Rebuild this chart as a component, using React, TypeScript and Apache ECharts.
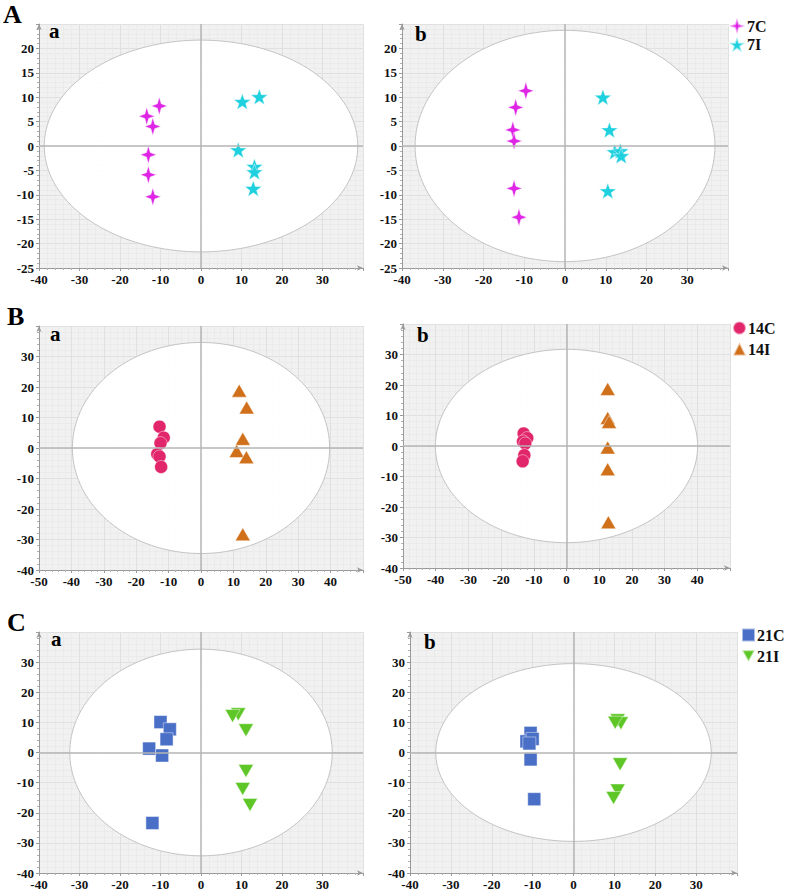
import React, { useEffect, useRef } from "react";
import * as echarts from "echarts";

// ---------- data ----------
// Panel A (day 7)
const A_a_7C = [[-10.3, 8.2], [-13.4, 6.1], [-11.9, 4.0], [-13.0, -1.8], [-13.0, -5.9], [-11.9, -10.4]];
const A_a_7I = [[10.2, 9.1], [14.4, 10.1], [9.2, -0.8], [13.2, -4.2], [13.2, -5.3], [12.9, -8.7]];
const A_b_7C = [[-9.6, 11.3], [-12.1, 7.9], [-12.8, 3.3], [-12.5, 1.0], [-12.5, -8.7], [-11.3, -14.6]];
const A_b_7I = [[9.3, 10.0], [10.9, 3.3], [12.2, -1.2], [13.6, -1.0], [13.8, -2.0], [10.5, -9.2]];
// Panel B (day 14)
const B_a_14C = [[-12.8, 7.0], [-11.5, 3.4], [-12.5, 1.6], [-13.5, -2.0], [-12.8, -2.8], [-12.3, -6.2]];
const B_a_14I = [[11.8, 18.8], [14.1, 13.3], [12.9, 3.0], [11.0, -1.0], [14.0, -3.0], [12.9, -28.3]];
const B_b_14C = [[-13.1, 4.1], [-12.0, 2.6], [-13.3, 1.5], [-12.6, 0.8], [-12.9, -3.0], [-13.4, -5.0]];
const B_b_14I = [[12.6, 18.7], [12.6, 9.2], [13.0, 7.9], [12.6, -0.5], [12.6, -7.6], [12.8, -25.0]];
// Panel C (day 21)
const C_a_21C = [[-10.0, 10.1], [-7.7, 7.7], [-8.5, 4.4], [-12.8, 1.3], [-9.6, -1.0], [-12.0, -23.4]];
const C_a_21I = [[9.2, 12.7], [7.8, 12.1], [11.1, 7.4], [11.1, -6.1], [10.3, -12.1], [12.1, -17.4]];
const C_b_21C = [[-10.5, 6.5], [-11.5, 3.7], [-10.0, 4.5], [-10.8, 3.0], [-10.5, -2.3], [-9.6, -15.5]];
const C_b_21I = [[10.8, 10.7], [11.6, 9.7], [10.2, 9.9], [11.4, -3.9], [10.8, -12.6], [9.8, -15.1]];

// Hotelling T2 ellipse semi-axes [a, b] per panel
const ELLIPSES = [[38.7, 21.7], [36.8, 23.7], [39.7, 34.6], [40.1, 31.7], [32.4, 34.3], [33.7, 29.5]];

// axis ranges per panel
const X_RANGES = [[-40, 40], [-40, 40], [-50, 50], [-50, 50], [-40, 40], [-40, 40]];
const Y_RANGES = [[-25, 25], [-25, 25], [-40, 40], [-40, 40], [-40, 40], [-40, 40]];
const Y_INTERVALS = [5, 5, 10, 10, 10, 10];

const PANEL_LETTERS = ["a", "b", "a", "b", "a", "b"];
const ROW_LETTERS = ["A", "B", "C"];

// ---------- style ----------
const SERIF = "'Liberation Serif', 'Times New Roman', serif";

const STAR4 = "path://M0,-10 L2.4,-2.4 L10,0 L2.4,2.4 L0,10 L-2.4,2.4 L-10,0 L-2.4,-2.4 Z";
const STAR5 =
  "path://M0,-10 L2.351,-3.236 L9.511,-3.09 L3.804,1.236 L5.878,8.09 L0,4 L-5.878,8.09 L-3.804,1.236 L-9.511,-3.09 L-2.351,-3.236 Z";
const DOWN_TRI = "path://M0,0 L10,0 L5,8.66 Z";

const GROUPS = [
  { name: "7C", color: "#df24e6", symbol: STAR4, size: [16, 18] },
  { name: "7I", color: "#1fd0df", symbol: STAR5, size: [17, 16] },
  { name: "14C", color: "#e2266b", symbol: "circle", size: 13 },
  { name: "14I", color: "#d0701b", symbol: "triangle", size: [15, 13] },
  { name: "21C", color: "#4a6fc6", symbol: "rect", size: 13 },
  { name: "21I", color: "#5ec727", symbol: DOWN_TRI, size: [15, 13] },
];

const GRIDS = [
  { left: 39, top: 24, width: 324, height: 244 },
  { left: 402, top: 24, width: 326, height: 244 },
  { left: 39, top: 326, width: 324, height: 244 },
  { left: 403, top: 324, width: 327, height: 244 },
  { left: 39, top: 632, width: 324, height: 242 },
  { left: 410, top: 632, width: 327, height: 244 },
];

const PANEL_DATA = [
  [A_a_7C, A_a_7I],
  [A_b_7C, A_b_7I],
  [B_a_14C, B_a_14I],
  [B_b_14C, B_b_14I],
  [C_a_21C, C_a_21I],
  [C_b_21C, C_b_21I],
];

const LETTER_POS = [
  [49, 32],
  [415, 35],
  [50, 335],
  [417, 336],
  [51, 640],
  [424, 643],
];
const ROW_POS = [
  [3, 15],
  [7, 317],
  [7, 623],
];
const LEGEND_POS = [
  { left: 728, top: 17, size: 16, gap: 1 },
  { left: 732, top: 320, size: 13, gap: 5 },
  { left: 741, top: 627, size: 13, gap: 5 },
];

function renderEllipse(_params: any, api: any) {
  const a = api.value(0);
  const b = api.value(1);
  const pts: number[][] = [];
  for (let i = 0; i <= 160; i++) {
    const t = (i / 160) * Math.PI * 2;
    pts.push(api.coord([a * Math.cos(t), b * Math.sin(t)]));
  }
  return {
    type: "polygon",
    shape: { points: pts },
    style: { fill: "rgba(255,255,255,0.95)", stroke: "#c4c4c4", lineWidth: 1 },
    silent: true,
  };
}

function buildOption() {
  const grid = GRIDS.map((g) => ({
    ...g,
    show: true,
    backgroundColor: "#f1f1f1",
    borderWidth: 0,
    containLabel: false,
  }));

  const axisCommon = (interval: number) => ({
    interval,
    axisLine: {
      show: true,
      onZero: false,
      lineStyle: { color: "#9a9a9a", width: 1 },
      symbol: ["none", "arrow"],
      symbolSize: [4, 6],
    },
    axisTick: { show: true, length: 3, lineStyle: { color: "#9a9a9a" } },
    minorTick: { show: true, splitNumber: 5, length: 2, lineStyle: { color: "#b0b0b0" } },
    splitLine: { show: true, lineStyle: { color: "#e0e0e0", width: 1 } },
    minorSplitLine: { show: true, lineStyle: { color: "#e8e8e8", width: 0.6 } },
    axisLabel: {
      showMaxLabel: false,
      color: "#111",
      fontFamily: SERIF,
      fontWeight: "bold",
      fontSize: 13,
      margin: 5,
    },
  });

  const xAxis = X_RANGES.map((r, i) => ({
    type: "value",
    gridIndex: i,
    min: r[0],
    max: r[1],
    ...axisCommon(10),
  }));
  const yAxis = Y_RANGES.map((r, i) => ({
    type: "value",
    gridIndex: i,
    min: r[0],
    max: r[1],
    ...axisCommon(Y_INTERVALS[i]),
  }));

  const series: any[] = [];
  PANEL_DATA.forEach((pair, i) => {
    series.push({
      type: "custom",
      xAxisIndex: i,
      yAxisIndex: i,
      z: 1,
      silent: true,
      clip: true,
      renderItem: renderEllipse,
      data: [ELLIPSES[i]],
    });
    pair.forEach((pts, k) => {
      const g = GROUPS[Math.floor(i / 2) * 2 + k];
      const s: any = {
        type: "scatter",
        name: g.name,
        xAxisIndex: i,
        yAxisIndex: i,
        symbol: g.symbol,
        symbolSize: g.size,
        z: 3,
        itemStyle: { color: g.color, borderColor: "rgba(255,255,255,0.55)", borderWidth: 0.8, opacity: 1 },
        data: pts,
      };
      if (k === 0) {
        s.markLine = {
          silent: true,
          symbol: ["none", "none"],
          label: { show: false },
          lineStyle: { color: "#b4b4b4", width: 1.5, type: "solid" },
          data: [{ xAxis: 0 }, { yAxis: 0 }],
        };
      }
      series.push(s);
    });
  });

  const legend = LEGEND_POS.map((p, r) => ({
    orient: "vertical",
    left: p.left,
    top: p.top,
    itemWidth: p.size,
    itemHeight: p.size,
    itemGap: p.gap,
    padding: 0,
    selectedMode: false,
    data: [GROUPS[r * 2].name, GROUPS[r * 2 + 1].name],
    textStyle: { fontFamily: SERIF, fontWeight: "bold", fontSize: 16, color: "#111", padding: [0, 0, 0, -3] },
  }));

  const graphic: any[] = [];
  ROW_LETTERS.forEach((t, r) => {
    graphic.push({
      type: "text",
      left: ROW_POS[r][0],
      top: ROW_POS[r][1] - 14,
      style: { text: t, font: `bold 26px ${SERIF}`, fill: "#000" },
    });
  });
  PANEL_LETTERS.forEach((t, i) => {
    graphic.push({
      type: "text",
      left: LETTER_POS[i][0],
      top: LETTER_POS[i][1] - 12,
      z: 10,
      style: { text: t, font: `bold 21px ${SERIF}`, fill: "#000" },
    });
  });

  return {
    animation: false,
    backgroundColor: "#ffffff",
    grid,
    xAxis,
    yAxis,
    legend,
    graphic,
    series,
  };
}

export default function App() {
  const ref = useRef<HTMLDivElement | null>(null);
  useEffect(() => {
    if (!ref.current) return;
    const chart = echarts.init(ref.current, null, { renderer: "svg" });
    chart.setOption(buildOption() as any);
    return () => chart.dispose();
  }, []);
  return (
    <div
      ref={ref}
      style={{ position: "absolute", left: 0, top: 0, width: 787, height: 891, background: "#fff" }}
    />
  );
}
